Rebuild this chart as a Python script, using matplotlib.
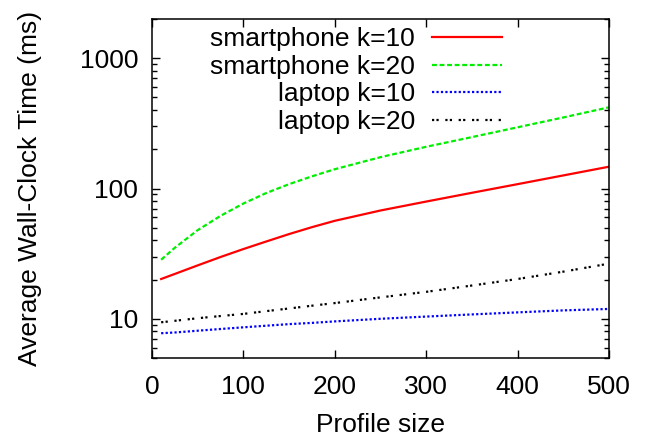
import matplotlib
matplotlib.use("Agg")
import matplotlib.pyplot as plt
from matplotlib.ticker import LogLocator, NullFormatter, FixedLocator

plt.rcParams['font.family'] = ['Liberation Sans', 'DejaVu Sans']

profile_size = [10, 25, 50, 75, 100, 125, 150, 175, 200, 250, 300, 350, 400, 450, 500]
smartphone_k10 = [20.2, 22.1, 25.7, 29.8, 34.3, 39.2, 44.7, 50.5, 56.5, 67.8, 79.4, 92.7, 108, 126, 147]
smartphone_k20 = [28.4, 35.1, 47.9, 61.7, 76.7, 92.3, 108, 124, 140.6, 174, 209, 248, 295, 351, 420]
laptop_k10 = [7.75, 7.85, 8.1, 8.35, 8.6, 8.85, 9.1, 9.3, 9.55, 10.0, 10.4, 10.8, 11.2, 11.6, 11.9]
laptop_k20 = [9.4, 9.65, 10.1, 10.5, 10.9, 11.45, 12.0, 12.6, 13.2, 14.6, 16.1, 18.0, 20.2, 23.0, 26.5]

x_ticks = [0, 100, 200, 300, 400, 500]

fig = plt.figure(figsize=(6.46, 4.41), dpi=100)
ax = fig.add_axes([0.2353, 0.1882, 0.7074, 0.7687])

ax.plot(profile_size, smartphone_k10, color='#ff0000', lw=1.6, label='smartphone k=10')
ax.plot(profile_size, smartphone_k20, color='#00ee00', lw=1.6, ls=(0, (2.2, 1.2)), label='smartphone k=20')
ax.plot(profile_size, laptop_k10, color='#0000ff', lw=1.6, ls=(0, (1, 1)), label='laptop k=10')
ax.plot(profile_size, laptop_k20, color='#000000', lw=1.6, ls=(0, (1, 1, 1, 3)), label='laptop k=20')

ax.set_yscale('log')
ax.set_xlim(0, 500)
ax.set_ylim(5, 2000)
ax.xaxis.set_major_locator(FixedLocator(x_ticks))
ax.yaxis.set_major_locator(FixedLocator([10, 100, 1000]))
ax.yaxis.set_major_formatter(plt.FuncFormatter(lambda v, p: '%d' % v))
ax.yaxis.set_minor_locator(LogLocator(base=10, subs=range(2, 10)))
ax.yaxis.set_minor_formatter(NullFormatter())

ax.tick_params(which='both', direction='in', top=True, right=True, labelsize=19, width=1)
ax.tick_params(which='major', length=6)
ax.tick_params(which='minor', length=3.5)
ax.tick_params(axis='y', pad=10)
ax.tick_params(axis='x', pad=12)
for s in ax.spines.values():
    s.set_linewidth(1.1)

ax.set_xlabel('Profile size', fontsize=19, labelpad=10)
ax.set_ylabel('Average Wall-Clock Time (ms)', fontsize=19, labelpad=27)

# markerfirst=False packs rows right-aligned, text left of the line sample
leg = ax.legend(loc='upper right', bbox_to_anchor=(0.766, 0.975), frameon=False,
                fontsize=19, markerfirst=False, handlelength=2.65, handletextpad=0.65,
                labelspacing=0.13, borderpad=0, borderaxespad=0)

fig.savefig('out.png', dpi=100)
